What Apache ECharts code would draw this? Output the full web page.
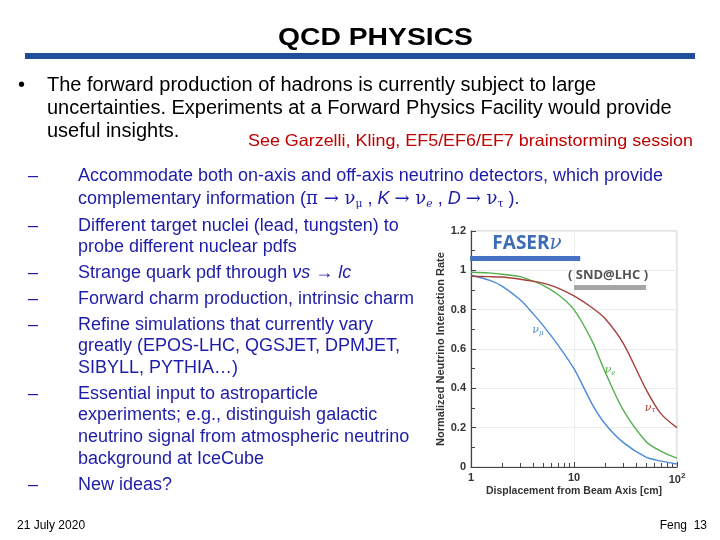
<!DOCTYPE html>
<html><head><meta charset="utf-8">
<script src="https://cdn.jsdelivr.net/npm/echarts@6/dist/echarts.min.js"></script>
<style>
html,body{margin:0;padding:0;width:720px;height:540px;background:#fff;overflow:hidden;font-family:"Liberation Sans",Arial,sans-serif;}
#chart{position:absolute;left:0;top:0;width:720px;height:540px;}
.t{position:absolute;white-space:nowrap;line-height:1;transform-origin:0 0;}
.blk{color:#000;font-size:20px;}
.blu{color:#1c1ca8;font-size:18px;}
.sym{font-family:"DejaVu Serif","Liberation Serif",serif;}
sub{font-size:0.6em;vertical-align:-0.25em;line-height:0;}
#bar{position:absolute;left:25px;top:53px;width:670px;height:6px;background:#1f4f99;}
</style>
</head><body>
<div id="chart"></div>
<div class="t fit" data-w="195" style="left:278px;top:25px;font-size:24px;font-weight:bold;color:#000;">QCD PHYSICS</div>
<div id="bar"></div>
<div class="t blk" style="left:18px;top:74px;">•</div>
<div class="t blk" style="left:47px;top:74px;">The forward production of hadrons is currently subject to large</div>
<div class="t blk" style="left:47px;top:97px;">uncertainties. Experiments at a Forward Physics Facility would provide</div>
<div class="t blk" style="left:47px;top:120px;">useful insights.</div>
<div class="t fit" data-w="445" style="left:248px;top:132px;font-size:16.5px;color:#c00000;">See Garzelli, Kling, EF5/EF6/EF7 brainstorming session</div>

<div class="t blu" style="left:28px;top:166px;">–</div>
<div class="t blu" style="left:78px;top:166px;">Accommodate both on-axis and off-axis neutrino detectors, which provide</div>
<div class="t blu" style="left:78px;top:189px;">complementary information (<span class="sym">π → ν<sub>μ</sub></span> , <i>K</i> <span class="sym">→ ν<sub><i>e</i></sub></span> , <i>D</i> <span class="sym">→ ν<sub>τ</sub></span> ).</div>
<div class="t blu" style="left:28px;top:216px;">–</div>
<div class="t blu" style="left:78px;top:216px;">Different target nuclei (lead, tungsten) to</div>
<div class="t blu" style="left:78px;top:237px;">probe different nuclear pdfs</div>
<div class="t blu" style="left:28px;top:263px;">–</div>
<div class="t blu" style="left:78px;top:263px;">Strange quark pdf through <i>νs</i> → <i>lc</i></div>
<div class="t blu" style="left:28px;top:289px;">–</div>
<div class="t blu" style="left:78px;top:289px;">Forward charm production, intrinsic charm</div>
<div class="t blu" style="left:28px;top:315px;">–</div>
<div class="t blu" style="left:78px;top:315px;">Refine simulations that currently vary</div>
<div class="t blu" style="left:78px;top:336px;">greatly (EPOS-LHC, QGSJET, DPMJET,</div>
<div class="t blu" style="left:78px;top:358px;">SIBYLL, PYTHIA…)</div>
<div class="t blu" style="left:28px;top:384px;">–</div>
<div class="t blu" style="left:78px;top:384px;">Essential input to astroparticle</div>
<div class="t blu" style="left:78px;top:405px;">experiments; e.g., distinguish galactic</div>
<div class="t blu" style="left:78px;top:427px;">neutrino signal from atmospheric neutrino</div>
<div class="t blu" style="left:78px;top:449px;">background at IceCube</div>
<div class="t blu" style="left:28px;top:475px;">–</div>
<div class="t blu" style="left:78px;top:475px;">New ideas?</div>

<div class="t" style="left:17px;top:519px;font-size:12px;color:#000;">21 July 2020</div>
<div class="t" style="right:13px;top:519px;font-size:12px;color:#000;">Feng&nbsp; 13</div>

<script>
const distance = [1, 1.5, 2, 3, 4, 5, 7, 10, 15, 20, 30, 50, 70, 100];
const rateNuMu = [0.975, 0.95, 0.92, 0.85, 0.78, 0.72, 0.62, 0.50, 0.32, 0.22, 0.125, 0.05, 0.03, 0.015];
const rateNuE = [0.99, 0.987, 0.98, 0.968, 0.945, 0.924, 0.877, 0.80, 0.64, 0.485, 0.29, 0.13, 0.08, 0.045];
const rateNuTau = [0.97, 0.968, 0.966, 0.955, 0.945, 0.935, 0.91, 0.87, 0.81, 0.755, 0.63, 0.395, 0.27, 0.2];
const xTickLabels = { 1: '1', 10: '10', 100: '10{sup|2}' };
const seriesNames = ['νμ', 'νe', 'ντ'];
const seriesColors = ['#4a8ad6', '#55b04f', '#a8403c'];

document.querySelectorAll('.fit').forEach(el => {
  const w = el.getBoundingClientRect().width;
  el.style.transform = 'scaleX(' + (parseFloat(el.dataset.w) / w) + ')';
});

function pairs(ys) { return distance.map((x, i) => [x, ys[i]]); }

const chart = echarts.init(document.getElementById('chart'));
const axisText = { color: '#333', fontSize: 11, fontWeight: 'bold', fontFamily: 'Liberation Sans' };
chart.setOption({
  animation: false,
  grid: { left: 471, top: 231, right: 43, bottom: 73, show: true, borderColor: '#c8c8c8', borderWidth: 1 },
  xAxis: {
    type: 'log', logBase: 10, min: 1, max: 100,
    name: 'Displacement from Beam Axis [cm]', nameLocation: 'middle', nameGap: 19,
    nameTextStyle: { color: '#333', fontSize: 10.5, fontWeight: 'bold', fontFamily: 'Liberation Sans' },
    axisLine: { lineStyle: { color: '#444', width: 1.2 } },
    axisTick: { inside: true, length: 5, lineStyle: { color: '#444' } },
    minorTick: { show: true, splitNumber: 9, length: 4, lineStyle: { color: '#444' } },
    splitLine: { show: true, lineStyle: { color: '#ececec' } },
    axisLabel: {
      ...axisText, margin: 5,
      formatter: v => xTickLabels[Math.round(v)] || '',
      rich: { sup: { fontSize: 8, fontWeight: 'bold', color: '#333', padding: [0, 0, 7, 0] } }
    }
  },
  yAxis: {
    type: 'value', min: 0, max: 1.2, interval: 0.2,
    name: 'Normalized Neutrino Interaction Rate', nameLocation: 'middle', nameGap: 24,
    nameTextStyle: { color: '#333', fontSize: 11, fontWeight: 'bold', fontFamily: 'Liberation Sans' },
    axisLine: { show: true, lineStyle: { color: '#444', width: 1.2 } },
    axisTick: { show: true, inside: true, length: 5, lineStyle: { color: '#444' } },
    minorTick: { show: true, splitNumber: 2, length: 4, lineStyle: { color: '#444' } },
    splitLine: { show: true, lineStyle: { color: '#ececec' } },
    axisLabel: { ...axisText, margin: 5 }
  },
  series: [rateNuMu, rateNuE, rateNuTau].map((ys, i) => ({
    type: 'line', name: seriesNames[i], data: pairs(ys), showSymbol: false,
    smooth: 0.3,
    lineStyle: { color: seriesColors[i], width: 1.4 }
  }))
});

// annotations positioned in data coordinates
const P = (x, y) => chart.convertToPixel({ gridIndex: 0 }, [x, y]);
const faserBar = [P(0.98, 1.06), P(11.5, 1.06)];
const sndBar = [P(10, 0.913), P(50, 0.913)];
const fT = P(3.5, 1.137), sT = P(21.4, 0.975);
const lab = [[4.47, 0.695], [22.4, 0.49], [54.8, 0.30]].map(d => P(d[0], d[1]));
const subs = ['μ', 'e', 'τ'];
chart.setOption({
  graphic: [
    { type: 'line', shape: { x1: faserBar[0][0], y1: faserBar[0][1], x2: faserBar[1][0], y2: faserBar[1][1] }, style: { stroke: '#4472c4', lineWidth: 5 }, z: 10 },
    { type: 'line', shape: { x1: sndBar[0][0], y1: sndBar[0][1], x2: sndBar[1][0], y2: sndBar[1][1] }, style: { stroke: '#a6a6a6', lineWidth: 5 }, z: 10 },
    { type: 'text', x: fT[0], y: fT[1], z: 10, style: { text: '{a|FASER}{b|ν}', align: 'center', verticalAlign: 'middle',
      rich: { a: { fontSize: 19, fontWeight: 'bold', fill: '#3d6db5', fontFamily: 'Open Sans' }, b: { fontSize: 20, fontStyle: 'italic', fill: '#3d6db5', fontFamily: 'DejaVu Serif' } } } },
    { type: 'text', x: sT[0], y: sT[1], z: 10, style: { text: '( SND@LHC )', align: 'center', verticalAlign: 'middle', fontSize: 13, fontWeight: 'bold', fill: '#555', fontFamily: 'Open Sans' } },
    ...lab.map((p, i) => ({ type: 'text', x: p[0], y: p[1], z: 10, style: { text: '{a|ν}{b|' + subs[i] + '}', align: 'center', verticalAlign: 'middle',
      rich: { a: { fontSize: 11, fontStyle: 'italic', fill: seriesColors[i], fontFamily: 'DejaVu Serif' }, b: { fontSize: 7, fontStyle: 'italic', fill: seriesColors[i], padding: [5, 0, 0, 0], fontFamily: 'DejaVu Serif' } } } }))
  ]
});
</script>
</body></html>
